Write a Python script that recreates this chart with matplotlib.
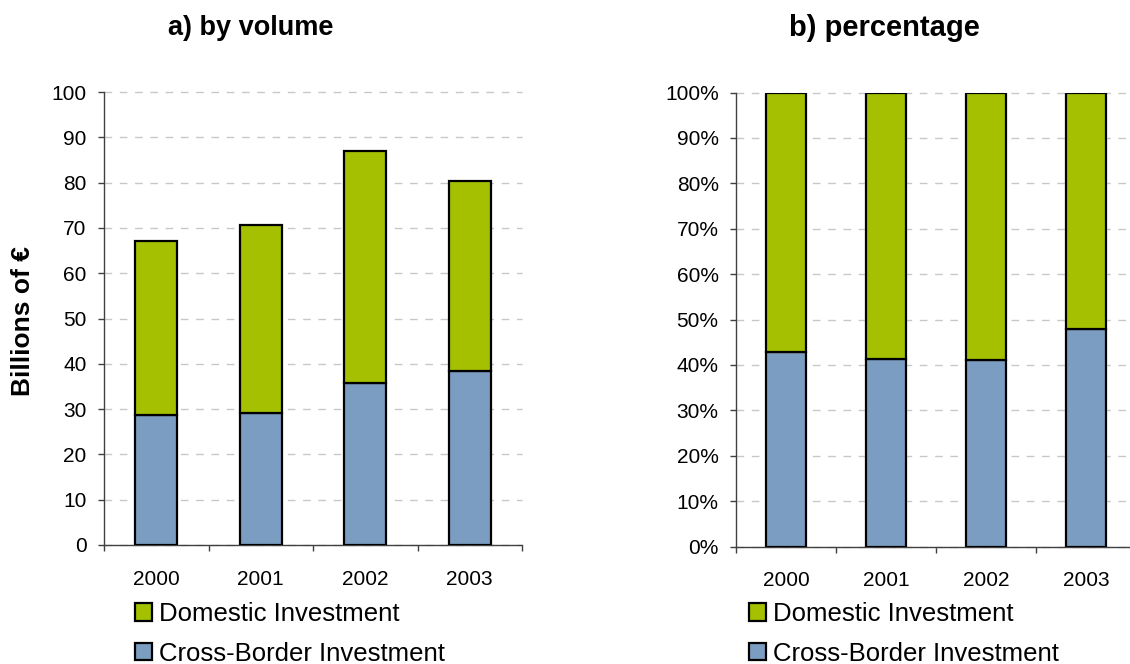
import matplotlib
matplotlib.use("Agg")
import matplotlib.pyplot as plt
import numpy as np
from matplotlib.patches import Patch
from matplotlib.ticker import FixedLocator, PercentFormatter

plt.rcParams['font.family'] = ['Liberation Sans', 'DejaVu Sans']

years = ['2000', '2001', '2002', '2003']
cross_border = [28.7, 29.1, 35.8, 38.5]
total = [67.1, 70.6, 87.0, 80.4]
domestic = [t - c for t, c in zip(total, cross_border)]
series_names = ['Domestic Investment', 'Cross-Border Investment']
title_a = 'a) by volume'
title_b = 'b) percentage'
ylabel_a = 'Billions of €'

cross_pct = [100 * c / t for c, t in zip(cross_border, total)]
dom_pct = [100 - p for p in cross_pct]

GREEN = '#A4C000'
BLUE = '#7B9DC1'
GRID = '#C8C8C8'
SPINE = '#404040'

W, H = 1130, 664
fig = plt.figure(figsize=(W / 100, H / 100), dpi=100)

def px_axes(x0, x1, ytop, ybot):
    return fig.add_axes([x0 / W, 1 - ybot / H, (x1 - x0) / W, (ybot - ytop) / H])

axL = px_axes(104, 522, 92, 545)
axR = px_axes(736, 1136, 92.5, 546.5)

x = np.arange(len(years))

def style(ax, ymax, step, pct=False):
    ax.set_xlim(-0.5, len(years) - 0.5)
    ax.set_ylim(0, ymax)
    ax.set_yticks(np.arange(0, ymax + 0.01, step))
    if pct:
        ax.yaxis.set_major_formatter(PercentFormatter(decimals=0))
    ax.set_xticks(x)
    ax.set_xticklabels(years)
    ax.xaxis.set_minor_locator(FixedLocator(np.arange(-0.5, len(years) - 0.49, 1.0)))
    ax.tick_params(axis='x', which='major', length=0, pad=18, labelsize=15)
    ax.tick_params(axis='x', which='minor', length=4.5, width=1, color=SPINE, direction='out')
    ax.tick_params(axis='y', length=4.5, width=1, color=SPINE, pad=8, labelsize=15)
    for s in ['top', 'right']:
        ax.spines[s].set_visible(False)
    for s in ['left', 'bottom']:
        ax.spines[s].set_color(SPINE)
        ax.spines[s].set_linewidth(1)
    ax.set_axisbelow(True)
    ax.yaxis.grid(True, color=GRID, linewidth=1, dashes=(5.5, 5.5))
    for gl in ax.get_ygridlines():
        gl.set_clip_on(False)

bw = 0.4
for ax, c, d in [(axL, cross_border, domestic), (axR, cross_pct, dom_pct)]:
    ax.bar(x, c, width=bw, color=BLUE, edgecolor='black', linewidth=1.6, zorder=3)
    ax.bar(x, d, width=bw, bottom=c, color=GREEN, edgecolor='black', linewidth=1.6, zorder=3)

style(axL, 100, 10)
style(axR, 100, 10, pct=True)

fig.text(251 / W, 1 - 28 / H, title_a, ha='center', va='center', fontsize=19.5, fontweight='bold')
fig.text(884 / W, 1 - 28 / H, title_b, ha='center', va='center', fontsize=21, fontweight='bold')
fig.text(23 / W, 1 - 321 / H, ylabel_a, ha='center', va='center', rotation=90, fontsize=19, fontweight='bold')

handles = [Patch(facecolor=GREEN, edgecolor='black', linewidth=1.6),
           Patch(facecolor=BLUE, edgecolor='black', linewidth=1.6)]
for xl in (135, 749):
    fig.legend(handles, series_names, loc='upper left', bbox_to_anchor=(xl / W, 1 - 602 / H),
               frameon=False, fontsize=18.5, handlelength=0.65, handleheight=0.65,
               handletextpad=0.3, labelspacing=0.62, borderaxespad=0, borderpad=0)

fig.savefig('out.png', dpi=100)
